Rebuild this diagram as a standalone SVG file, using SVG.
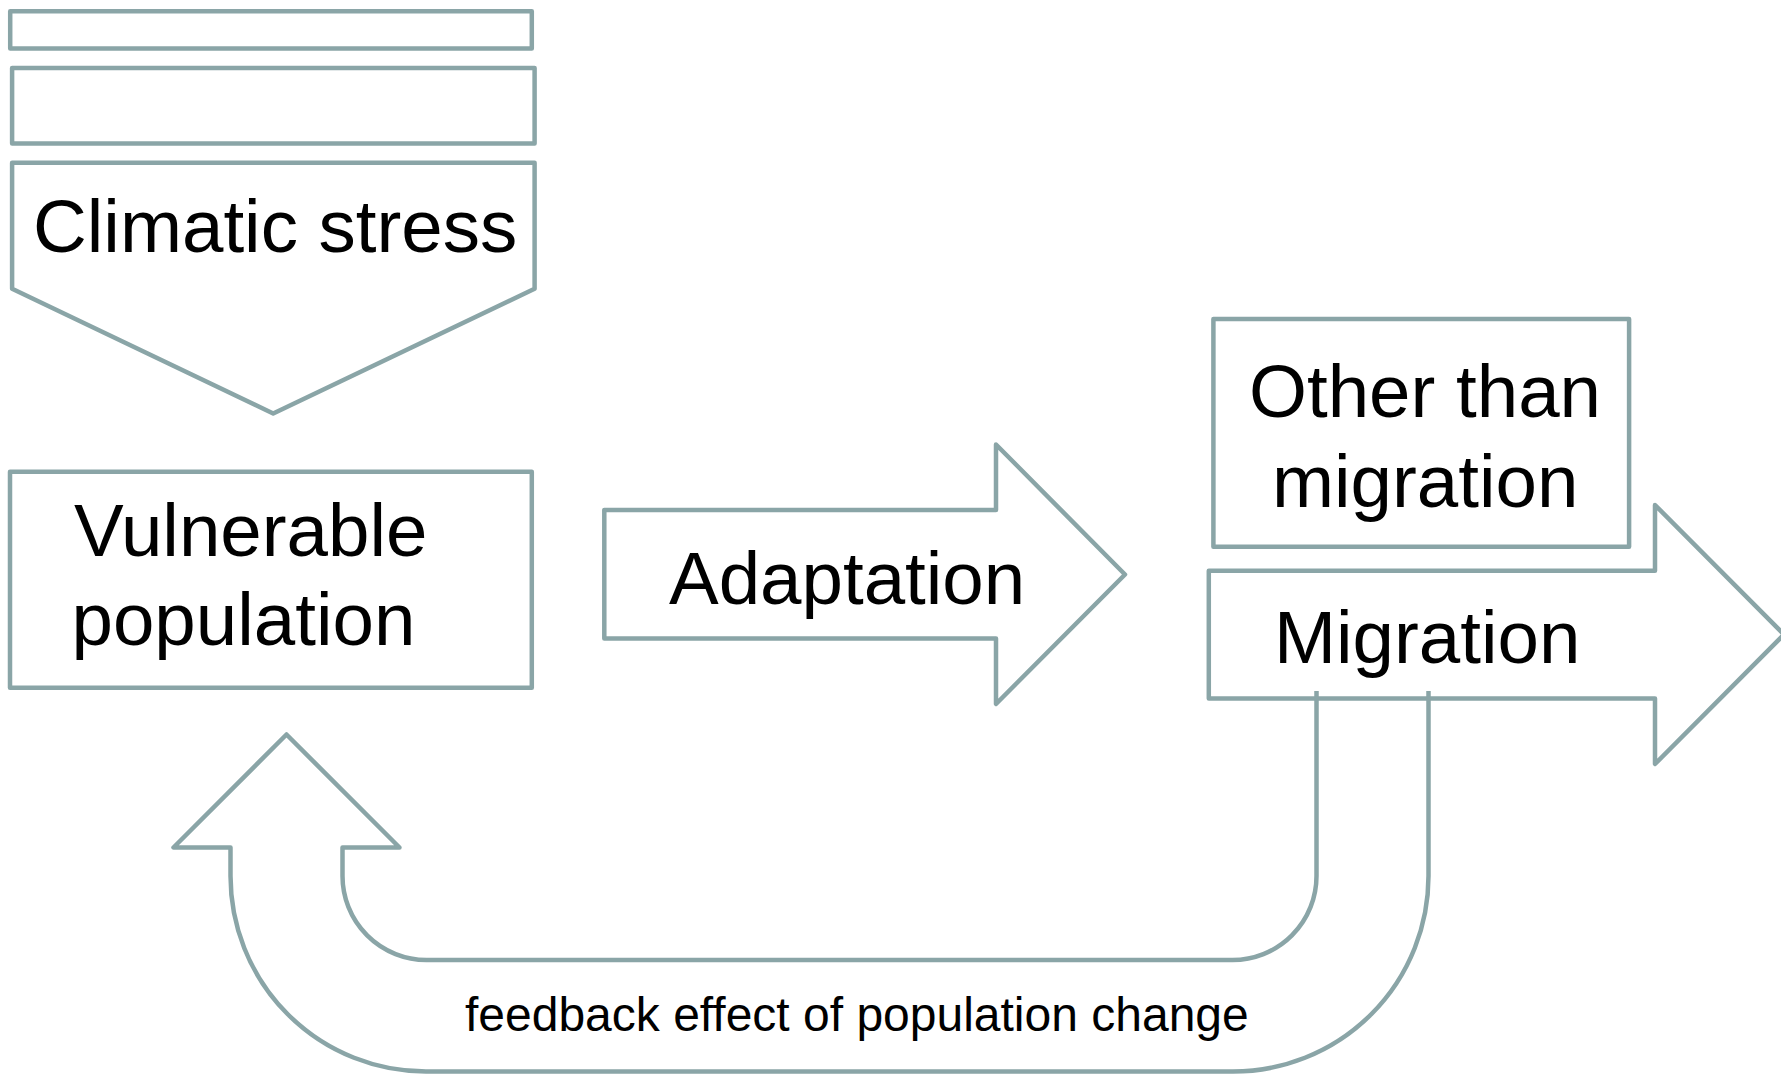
<svg xmlns="http://www.w3.org/2000/svg" width="1781" height="1075" viewBox="0 0 1781 1075">
  <style>
    .shape { fill: #ffffff; stroke: #8aa5a7; stroke-width: 4.5; stroke-linejoin: round; }
    .line { fill: none; stroke: #8aa5a7; stroke-width: 4.5; stroke-linejoin: round; }
    .big { font-family: "Liberation Sans", Arial, sans-serif; font-size: 74.5px; fill: #000000; }
    .small { font-family: "Liberation Sans", Arial, sans-serif; font-size: 48px; fill: #000000; }
  </style>
  <rect width="1781" height="1075" fill="#ffffff"/>

  <!-- stacked bars above the stress chevron -->
  <g id="bar-top">
    <rect class="shape" x="10.2" y="11.3" width="521.6" height="37.2"/>
  </g>
  <g id="bar-middle">
    <rect class="shape" x="12.1" y="68" width="522.5" height="75.5"/>
  </g>

  <!-- downward chevron -->
  <g id="climatic-stress">
    <path class="shape" d="M12.1,162.7 H534.6 V288.7 L273.2,413.5 L12.1,288.7 Z"/>
    <text class="big" x="33" y="252">Climatic stress</text>
  </g>

  <g id="vulnerable-population">
    <rect class="shape" x="10" y="471.7" width="521.8" height="216"/>
    <text class="big" x="74" y="556">Vulnerable</text>
    <text class="big" x="71.5" y="645">population</text>
  </g>

  <g id="adaptation">
    <path class="shape" d="M604.3,510 H996 V444.5 L1125,574.5 L996,704 V638.5 H604.3 Z"/>
    <text class="big" x="669" y="604">Adaptation</text>
  </g>

  <g id="other-than-migration">
    <rect class="shape" x="1213.4" y="319" width="415.7" height="227.7"/>
    <text class="big" x="1249" y="417">Other than</text>
    <text class="big" x="1272" y="506.5">migration</text>
  </g>

  <g id="migration">
    <path class="shape" d="M1208.8,570.7 H1655 V505 L1784,634.5 L1655,764 V698.5 H1208.8 Z"/>
    <text class="big" x="1274" y="663">Migration</text>
  </g>

  <!-- U-turn arrow leading from migration back to the population -->
  <g id="connectors">
    <path class="line" d="M1316.5,691 V876 A84,84 0 0 1 1232.5,960 H426.5 A84,84 0 0 1 342.5,876 V847.5 H399.5 L286.5,734.5 L173.5,847.5 H230.5 V876 A195.5,195.5 0 0 0 426,1071.5 H1233 A195.5,195.5 0 0 0 1428.5,876 V691"/>
    <text class="small" x="465" y="1031">feedback effect of population change</text>
  </g>
</svg>
